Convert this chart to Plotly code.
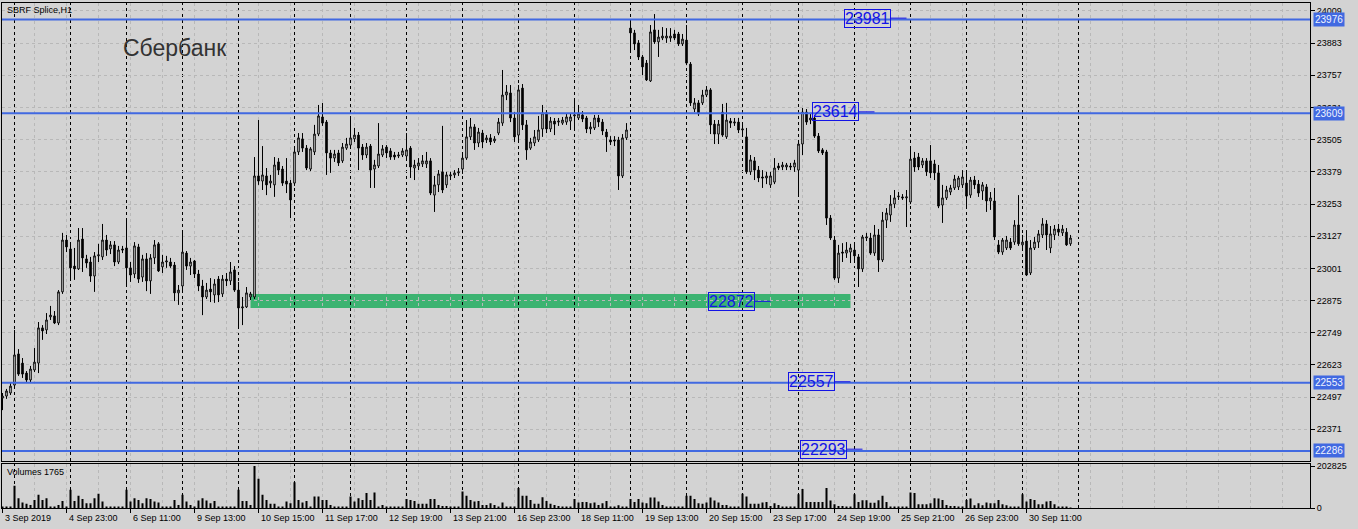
import plotly.graph_objects as go

# ---------------- data (SBRF Splice, H1) ----------------
opens = [
22493,22501,22513,22544,22666,22630,22591,22564,22603,22630,
22768,22760,22811,22815,22787,22909,23112,23077,23010,22999,
23116,23038,23026,22971,23050,23046,23112,23077,23093,23026,
23077,23081,23003,22979,23085,22967,23038,22952,23042,23097,
23007,23026,23026,23014,22905,22932,23061,23010,23030,22979,
22932,22889,22920,22897,22959,22901,22959,22952,22995,22916,
22846,22850,22889,22889,23363,23343,23363,23335,23328,23418,
23390,23343,23335,23335,23457,23508,23472,23390,23457,23527,
23594,23574,23453,23433,23453,23422,23472,23484,23508,23523,
23476,23445,23480,23390,23402,23445,23476,23461,23445,23441,
23445,23441,23472,23394,23402,23410,23410,23422,23288,23328,
23379,23328,23363,23367,23375,23390,23433,23516,23555,23492,
23531,23504,23512,23500,23531,23570,23680,23688,23590,23523,
23707,23563,23472,23492,23504,23547,23610,23547,23578,23574,
23570,23574,23578,23598,23590,23602,23590,23547,23551,23590,
23574,23535,23504,23504,23504,23363,23512,23942,23923,23884,
23829,23805,23735,23935,23888,23903,23903,23903,23919,23919,
23880,23895,23801,23625,23649,23649,23680,23700,23566,23527,
23613,23516,23578,23570,23574,23543,23516,23379,23422,23386,
23359,23355,23328,23339,23402,23398,23398,23402,23398,23386,
23488,23613,23582,23590,23519,23465,23457,23198,23112,22963,
23065,23061,23065,23073,23046,22999,23120,23120,23061,23132,
23034,23190,23210,23253,23281,23281,23277,23261,23433,23437,
23406,23422,23422,23410,23375,23249,23277,23300,23316,23320,
23328,23335,23288,23347,23331,23304,23320,23265,23265,23093,
23065,23081,23104,23104,23171,23093,23108,22983,23081,23104,
23132,23175,23081,23132,23155,23140,23143,23097]

highs = [
22513,22529,22552,22760,22685,22650,22599,22619,22689,22791,
22779,22826,22854,22834,22916,23140,23132,23093,23081,23159,
23159,23054,23046,23065,23097,23175,23132,23108,23108,23089,
23089,23198,23026,23104,23097,23054,23061,23057,23112,23104,
23054,23050,23042,23026,22936,23151,23069,23042,23034,22995,
22956,22944,22963,22959,22971,22975,22983,23026,23010,22948,
22889,22928,22909,23437,23582,23480,23394,23367,23437,23433,
23402,23433,23347,23472,23531,23531,23484,23476,23563,23641,
23649,23582,23465,23465,23465,23492,23512,23594,23551,23535,
23488,23492,23488,23426,23570,23484,23484,23472,23457,23457,
23472,23531,23480,23426,23433,23445,23457,23433,23363,23386,
23559,23379,23379,23386,23394,23445,23582,23590,23566,23551,
23543,23523,23527,23519,23590,23778,23719,23719,23613,23719,
23723,23582,23512,23543,23598,23641,23621,23594,23590,23590,
23594,23606,23606,23668,23641,23617,23598,23574,23602,23602,
23586,23547,23519,23519,23516,23527,23570,23966,23935,23895,
23837,23817,23954,23997,23935,23946,23942,23942,23935,23927,
23919,23954,23809,23668,23660,23700,23715,23707,23582,23582,
23645,23649,23590,23590,23590,23566,23551,23445,23437,23402,
23386,23379,23379,23433,23414,23418,23414,23414,23426,23504,
23629,23625,23610,23602,23531,23472,23465,23210,23128,23093,
23100,23104,23097,23104,23057,23132,23140,23140,23171,23155,
23222,23237,23288,23308,23300,23292,23308,23469,23457,23453,
23433,23433,23484,23426,23406,23328,23324,23328,23367,23363,
23386,23386,23359,23363,23347,23339,23331,23300,23316,23112,
23120,23128,23120,23190,23288,23132,23151,23112,23124,23151,
23198,23190,23167,23171,23175,23171,23159,23132]

lows = [
22446,22490,22505,22537,22580,22572,22552,22556,22595,22591,
22721,22744,22799,22783,22779,22901,23065,22956,22956,22995,
22987,23003,22948,22909,23026,23034,23050,23057,23010,23018,
23061,22932,22948,22963,22944,22948,22912,22901,23018,22987,
22983,23003,23003,22873,22858,22916,22995,22975,22963,22912,
22818,22881,22869,22866,22869,22889,22932,22936,22909,22768,
22779,22846,22877,22881,23328,23308,23288,23316,23281,23367,
23324,23296,23198,23324,23445,23457,23386,23382,23445,23519,
23559,23367,23375,23418,23402,23414,23465,23476,23496,23386,
23426,23433,23316,23316,23394,23437,23433,23426,23426,23433,
23437,23433,23355,23347,23386,23398,23394,23288,23222,23300,
23296,23316,23347,23355,23363,23371,23426,23504,23465,23476,
23472,23492,23484,23492,23523,23559,23660,23574,23496,23492,
23543,23426,23465,23480,23496,23516,23531,23535,23523,23559,
23563,23563,23543,23543,23582,23574,23531,23527,23543,23555,
23523,23457,23484,23480,23308,23355,23504,23848,23856,23817,
23758,23735,23731,23880,23829,23895,23884,23888,23895,23872,
23872,23797,23637,23613,23598,23641,23672,23527,23488,23488,
23516,23508,23551,23559,23531,23516,23371,23367,23347,23339,
23316,23331,23316,23331,23386,23386,23386,23386,23379,23281,
23445,23563,23566,23512,23453,23445,23171,23112,22956,22944,
23026,23042,23022,23026,22928,22987,23108,23054,23050,22987,
23026,23159,23183,23237,23269,23269,23163,23253,23379,23386,
23394,23363,23355,23347,23237,23179,23269,23288,23308,23308,
23316,23237,23277,23312,23281,23269,23222,23230,23112,23057,
23054,23073,23073,23093,23089,23081,22971,22975,23073,23081,
23120,23073,23061,23112,23128,23128,23089,23089]

closes = [
22501,22521,22540,22662,22587,22587,22564,22607,22634,22768,
22756,22799,22818,22787,22909,23112,23085,23003,22999,23112,
23042,23022,22971,23050,23054,23112,23073,23093,23026,23073,
23073,23003,22975,23089,22959,23038,22952,23042,23093,22991,
23026,23030,23010,22905,22916,23065,23010,23026,22979,22932,
22889,22916,22909,22940,22897,22959,22952,22987,22916,22846,
22850,22905,22901,23363,23343,23367,23328,23343,23406,23386,
23335,23331,23269,23457,23512,23472,23394,23469,23527,23598,
23570,23453,23433,23449,23414,23476,23488,23512,23523,23472,
23445,23476,23386,23406,23449,23469,23453,23437,23437,23445,
23461,23465,23398,23406,23414,23422,23422,23296,23328,23371,
23308,23367,23367,23375,23379,23433,23516,23555,23492,23535,
23496,23512,23496,23508,23574,23680,23692,23590,23516,23700,
23563,23465,23496,23516,23543,23610,23547,23578,23566,23578,
23582,23594,23594,23602,23606,23586,23547,23555,23590,23574,
23539,23516,23496,23500,23363,23512,23543,23923,23880,23829,
23790,23739,23927,23888,23907,23911,23911,23911,23903,23880,
23899,23805,23649,23649,23606,23680,23700,23563,23527,23566,
23523,23582,23570,23574,23543,23547,23379,23426,23386,23355,
23355,23363,23363,23394,23394,23406,23406,23398,23414,23488,
23613,23574,23590,23519,23461,23453,23198,23120,22963,23061,
23061,23073,23081,23050,22999,23124,23124,23061,23132,23034,
23190,23218,23253,23277,23284,23277,23281,23429,23398,23398,
23422,23379,23375,23375,23245,23277,23308,23316,23351,23355,
23359,23284,23347,23328,23296,23328,23265,23277,23124,23065,
23112,23112,23081,23171,23097,23104,22975,23081,23104,23136,
23175,23132,23136,23155,23143,23155,23093,23120]

volumes = [
3000,5000,7000,108000,47000,26000,20000,15000,39000,64000,
39000,47000,7000,7000,15000,34000,7000,88000,34000,59000,
43000,23000,23000,47000,69000,31000,7000,7000,7000,7000,
5000,88000,31000,47000,39000,23000,47000,43000,31000,26000,
7000,7000,5000,39000,15000,64000,31000,15000,7000,36000,
47000,36000,23000,34000,7000,7000,7000,7000,7000,88000,
34000,34000,15000,202825,141000,64000,39000,20000,20000,7000,
7000,31000,23000,124000,39000,26000,34000,7000,56000,56000,
39000,39000,15000,7000,7000,7000,4000,56000,31000,47000,
39000,72000,39000,75000,7000,15000,7000,3000,3000,3000,
3000,43000,39000,34000,20000,20000,20000,43000,43000,15000,
10000,10000,5000,5000,7000,80000,59000,39000,31000,34000,
15000,15000,23000,15000,7000,26000,7000,7000,7000,96000,
59000,59000,39000,20000,20000,52000,34000,20000,15000,10000,
7000,7000,7000,43000,26000,29000,29000,23000,26000,15000,
23000,34000,7000,7000,13000,7000,7000,43000,29000,43000,
26000,23000,51000,51000,31000,15000,7000,7000,7000,7000,
3000,59000,59000,43000,23000,20000,26000,51000,36000,26000,
15000,15000,7000,7000,7000,69000,56000,20000,20000,20000,
26000,29000,10000,23000,15000,7000,3000,3000,3000,67000,
92000,29000,29000,29000,29000,29000,96000,36000,18000,10000,
10000,7000,7000,67000,29000,38000,38000,25000,25000,38000,
59000,29000,7000,7000,7000,3000,3000,75000,72000,18000,
18000,18000,23000,47000,46000,39000,15000,10000,10000,3000,
3000,39000,46000,13000,23000,13000,26000,23000,23000,39000,
18000,13000,7000,3000,7000,67000,31000,44000,39000,18000,
18000,31000,34000,18000,7000,7000,7000,1765]

# time-axis labels (bar index -> label)
time_label_bars = [0, 16, 32, 48, 64, 80, 96, 112, 128, 144, 160, 176, 192, 208, 224, 240, 256]
time_labels = ["3 Sep 2019", "4 Sep 23:00", "6 Sep 11:00", "9 Sep 13:00", "10 Sep 15:00",
               "11 Sep 17:00", "12 Sep 19:00", "13 Sep 21:00", "16 Sep 23:00", "18 Sep 11:00",
               "19 Sep 13:00", "20 Sep 15:00", "23 Sep 17:00", "24 Sep 19:00", "25 Sep 21:00",
               "26 Sep 23:00", "30 Sep 11:00"]
day_start_bars = [3 + 14 * k for k in range(20)]

price_ticks = [22371, 22497, 22623, 22749, 22875, 23001, 23127, 23253, 23379,
               23505, 23631, 23757, 23883, 24009]
hlines = [23976, 23609, 22553, 22286]
text_labels = [23981, 23614, 22872, 22557, 22293]
text_label_bar = [222.0, 214.0, 188.0, 208.0, 211.0]
zone_low, zone_high = 22846, 22901
zone_bars = (62, 212)
vol_max = 202825

# ---------------- figure ----------------
W, H = 1358, 529
BG = "#d3d3d3"
GRID = "#b8b8b8"
BLUE = "#4169E1"
TXTBLUE = "#1414e6"
AXFONT = dict(family="Liberation Sans, Arial", size=9, color="black")

idx = list(range(len(closes)))
xdom = [2 / W, 1310 / W]
xr = [-0.125, 326.875]
ydom_main = [1 - 461 / H, 1 - 3 / H]
ydom_vol = [1 - 508 / H, 1 - 463.5 / H]
yr_main = [22246.7, 24040.3]
yr_vol = [0, vol_max * 44.5 / 42.0]

fig = go.Figure()
fig.add_trace(go.Candlestick(
    x=idx, open=opens, high=highs, low=lows, close=closes,
    increasing=dict(fillcolor="white", line=dict(color="black", width=1)),
    decreasing=dict(fillcolor="black", line=dict(color="black", width=1)),
    whiskerwidth=0, hoverinfo="skip", showlegend=False, xaxis="x", yaxis="y"))
fig.add_trace(go.Bar(
    x=idx, y=volumes, width=0.5, marker=dict(color="black", line=dict(width=0)),
    hoverinfo="skip", showlegend=False, xaxis="x2", yaxis="y2"))

grid8 = list(range(0, 327, 8))
fig.update_layout(
    width=W, height=H, autosize=False,
    margin=dict(l=0, r=0, t=0, b=0, pad=0, autoexpand=False),
    paper_bgcolor=BG, plot_bgcolor=BG,
    showlegend=False, hovermode=False, boxgap=0.45,
    font=AXFONT,
    xaxis=dict(domain=xdom, range=xr, anchor="y", rangeslider=dict(visible=False),
               automargin=False,
               tickvals=grid8, showticklabels=False, ticks="",
               showgrid=True, gridcolor=GRID, griddash="3px,3px", gridwidth=1,
               showline=True, mirror=True, linecolor="black", linewidth=1, zeroline=False),
    yaxis=dict(domain=ydom_main, range=yr_main, anchor="x", side="right", automargin=False,
               tickvals=price_ticks, ticktext=[str(v) for v in price_ticks],
               ticks="outside", ticklen=4, tickcolor="black", tickfont=AXFONT,
               showgrid=True, gridcolor=GRID, griddash="3px,3px", gridwidth=1,
               showline=True, mirror=True, linecolor="black", linewidth=1, zeroline=False),
    xaxis2=dict(domain=xdom, range=xr, anchor="y2", automargin=False,
                tickvals=time_label_bars, showticklabels=False, ticks="outside",
                ticklen=4, tickcolor="black",
                showgrid=True, gridcolor=GRID, griddash="3px,3px", gridwidth=1,
                minor=dict(tickvals=grid8, showgrid=True, gridcolor=GRID,
                           griddash="3px,3px", ticks=""),
                showline=True, mirror=True, linecolor="black", linewidth=1, zeroline=False),
    yaxis2=dict(domain=ydom_vol, range=yr_vol, anchor="x2", side="right", automargin=False,
                tickvals=[0, vol_max], ticktext=["0", str(vol_max)],
                ticks="outside", ticklen=4, tickcolor="black", tickfont=AXFONT,
                showgrid=False, showline=True, mirror=True, linecolor="black",
                linewidth=1, zeroline=False),
)

shapes = []
# green zone
shapes.append(dict(type="rect", xref="x", yref="y", x0=zone_bars[0], x1=zone_bars[1],
                   y0=zone_low, y1=zone_high, fillcolor="#3CB371",
                   line=dict(width=0), layer="below"))
# day separators
for b in day_start_bars:
    shapes.append(dict(type="line", xref="x", yref="y", x0=b, x1=b, y0=yr_main[0], y1=yr_main[1],
                       line=dict(color="black", width=1, dash="3px,3px"), layer="below"))
    shapes.append(dict(type="line", xref="x2", yref="y2", x0=b, x1=b, y0=yr_vol[0], y1=yr_vol[1],
                       line=dict(color="black", width=1, dash="3px,3px"), layer="below"))
# horizontal blue levels
for p in hlines:
    shapes.append(dict(type="line", xref="x", yref="y", x0=xr[0], x1=xr[1], y0=p, y1=p,
                       line=dict(color=BLUE, width=2), layer="above"))
# small line segments from text labels
for p, b in zip(text_labels, text_label_bar):
    shapes.append(dict(type="line", xref="x", yref="y", x0=b, x1=b + 4, y0=p, y1=p,
                       line=dict(color=TXTBLUE, width=1), layer="above"))
fig.update_layout(shapes=shapes)

ann = []
ann.append(dict(text="SBRF Splice,H1", xref="paper", yref="paper", x=5 / W, y=1 - 10 / H,
                xanchor="left", yanchor="middle", showarrow=False, font=AXFONT))
ann.append(dict(text="Volumes 1765", xref="paper", yref="paper", x=5 / W, y=1 - 472 / H,
                xanchor="left", yanchor="middle", showarrow=False, font=AXFONT))
ann.append(dict(text="Сбербанк", xref="paper", yref="paper", x=121 / W, y=1 - 48 / H,
                xanchor="left", yanchor="middle", showarrow=False,
                font=dict(family="Liberation Sans, Arial", size=23, color="#333333")))
for b, t in zip(time_label_bars, time_labels):
    ann.append(dict(text=t, xref="x2", yref="paper", x=b, y=1 - 518 / H,
                    xanchor="left", yanchor="middle", showarrow=False, font=AXFONT))
for p in hlines:
    ann.append(dict(text=str(p), xref="paper", yref="y", x=1312.5 / W, y=p,
                    xanchor="left", yanchor="middle", showarrow=False,
                    bgcolor=BLUE, borderpad=1,
                    font=dict(family=AXFONT["family"], size=10, color="#f0f4ff")))
for p, b in zip(text_labels, text_label_bar):
    ann.append(dict(text=str(p), xref="x", yref="y", x=b, y=p,
                    xanchor="right", yanchor="middle", showarrow=False,
                    bordercolor=TXTBLUE, borderwidth=1, borderpad=0,
                    font=dict(family="Liberation Sans, Arial", size=16, color=TXTBLUE)))
fig.update_layout(annotations=ann)

post = ("document.documentElement.style.margin='0';"
        "document.documentElement.style.overflow='hidden';"
        "document.body.style.margin='0';document.body.style.padding='0';"
        "document.body.style.overflow='hidden';document.body.style.height='529px';"
        "document.body.style.background='#d3d3d3';"
        "var d=document.getElementById('{plot_id}');"
        "d.style.display='block';"
        "if(d.parentElement){d.parentElement.style.height='529px';"
        "d.parentElement.style.overflow='hidden';d.parentElement.style.lineHeight='0';}")
fig.write_html("out.html", config={"displayModeBar": False}, post_script=post)
